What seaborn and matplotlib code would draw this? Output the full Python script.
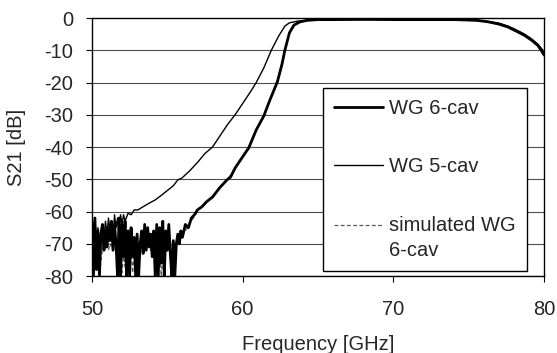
import numpy as np
import pandas as pd
import seaborn as sns
import matplotlib.pyplot as plt

# measured 6-cavity waveguide filter (thick line)
freq_6cav = [50.0, 50.1, 50.2, 50.3, 50.4, 50.5, 50.6, 50.7, 50.8, 50.9,
             51.0, 51.1, 51.2, 51.3, 51.4, 51.5, 51.6, 51.7, 51.8, 51.9,
             52.0, 52.1, 52.2, 52.3, 52.4, 52.5, 52.6, 52.7, 52.8, 52.9,
             53.0, 53.1, 53.2, 53.3, 53.4, 53.5, 53.6, 53.7, 53.8, 53.9,
             54.0, 54.1, 54.2, 54.3, 54.4, 54.5, 54.6, 54.7, 54.8, 54.9,
             55.0, 55.1, 55.2, 55.3, 55.4, 55.5, 55.6, 55.7, 55.8, 55.9,
             56.0, 56.2, 56.4, 56.6, 56.8, 57.0, 57.3, 57.6, 58.0, 58.5,
             59.0, 59.2, 59.5, 60.0, 60.4, 60.9, 61.4, 61.8, 62.3, 62.6,
             62.8, 63.1, 63.4, 63.8, 64.3, 65.0, 66.0, 68.0, 70.0, 72.0,
             74.0, 75.5, 76.3, 77.0, 77.6, 78.2, 78.7, 79.2, 79.6, 80.0]
s21_6cav = [-63, -80, -62, -78, -66, -80, -67, -64, -72, -66,
            -71, -65, -69, -63, -72, -64, -70, -80, -62, -80,
            -64, -74, -63, -80, -66, -80, -65, -74, -68, -80,
            -67, -80, -70, -66, -73, -64, -72, -65, -71, -67,
            -74, -66, -80, -64, -80, -65, -76, -63, -80, -66,
            -72, -64, -73, -80, -69, -80, -70, -67, -70, -66,
            -68, -64, -65, -62, -61, -59.5, -58.5, -57, -55.5, -52.5,
            -50, -49.3, -46.5, -43, -40.3, -34.7, -30.4, -25.5, -19.8, -14.5,
            -10, -4.6, -2.2, -1.2, -0.7, -0.5, -0.5, -0.4, -0.5, -0.5,
            -0.5, -0.7, -1.2, -1.9, -2.8, -4.2, -5.4, -7.0, -8.6, -11.5]

# measured 5-cavity waveguide filter (thin line)
freq_5cav = [50.0, 50.1, 50.2, 50.3, 50.4, 50.5, 50.6, 50.7, 50.8, 50.9,
             51.0, 51.1, 51.2, 51.3, 51.4, 51.5, 51.6, 51.7, 51.8, 51.9,
             52.0, 52.1, 52.2, 52.4, 52.6, 52.8, 53.05, 53.4, 53.8, 54.2,
             54.6, 55.0, 55.4, 55.7, 56.0, 56.5, 57.0, 57.5, 58.0, 58.5,
             59.0, 59.5, 60.0, 60.5, 60.9, 61.4, 61.9, 62.4, 62.8, 63.1,
             63.6, 64.5, 66.0, 68.0, 70.0, 72.0, 74.0, 75.5, 76.3, 77.0,
             77.6, 78.2, 78.7, 79.2, 79.6, 80.0]
s21_5cav = [-62, -68, -63, -69, -65, -70, -66, -64, -68, -63,
            -67, -62, -66, -64, -69, -61, -65, -62, -67, -61,
            -64, -61, -63, -60.5, -61, -59.5, -59.5, -58.5, -57.4, -56.4,
            -55, -53.5, -52, -50.2, -49.5, -47.3, -44.8, -42, -40, -36.5,
            -33, -30, -26.5, -23, -20, -15.5, -10, -5.5, -2.5, -1.5,
            -1.0, -0.6, -0.5, -0.5, -0.4, -0.5, -0.6, -0.8, -1.1, -1.6,
            -2.5, -3.8, -5.0, -6.6, -8.2, -10.5]

# simulated 6-cavity response (dashed)
freq_sim = [50.0, 50.1, 50.2, 50.3, 50.4, 50.5, 50.6, 50.7, 50.8, 50.9,
            51.0, 51.1, 51.2, 51.3, 51.4, 51.5, 51.6, 51.7, 51.8, 51.9,
            52.0, 52.1, 52.2, 52.3, 52.4, 52.5, 52.6, 52.7, 52.8, 52.9,
            53.0, 53.1, 53.2, 53.3, 53.4, 53.5, 53.6, 53.7, 53.8, 53.9,
            54.0, 54.1, 54.2, 54.3, 54.4, 54.5, 54.6, 54.7, 54.8, 54.9,
            55.0, 55.2, 55.5, 55.8, 56.2, 56.6, 57.0, 57.6, 58.0, 58.5,
            59.0, 59.5, 60.0, 60.4, 60.9, 61.4, 61.8, 62.3, 62.8, 63.1,
            63.5, 64.0, 65.0, 70.0, 75.0, 76.0, 77.0, 78.0, 79.0, 80.0]
s21_sim = [-74, -79, -72, -78, -73, -80, -75, -72, -71, -70,
           -71, -72, -70, -71, -72, -70, -71, -74, -78, -72,
           -79, -73, -77, -72, -78, -74, -72, -79, -73, -78,
           -72, -77, -71, -70, -71, -72, -70, -71, -70, -72,
           -71, -73, -79, -72, -78, -73, -80, -74, -78, -72,
           -71, -70, -70, -69, -66, -63, -60, -57, -55.5, -52.5,
           -50, -46.5, -43, -40.3, -34.7, -30.4, -25.5, -19.8, -10, -4.8,
           -2.0, -1.0, -0.6, -0.5, -0.6, -0.9, -1.6, -3.3, -6.0, -11.0]

y_ticks = [0, -10, -20, -30, -40, -50, -60, -70, -80]
x_ticks = [50, 60, 70, 80]

sns.set_style("ticks")
plt.rcParams['font.family'] = ['Liberation Sans', 'DejaVu Sans']
plt.rcParams['axes.unicode_minus'] = False
fs = 14.5

fig = plt.figure(figsize=(5.57, 3.53), dpi=100)
ax = fig.add_axes([0.165, 0.218, 0.812, 0.731])

for yv in y_ticks[1:]:
    ax.axhline(yv, color="0.3", lw=0.8, zorder=0)

sns.lineplot(x=freq_sim, y=s21_sim, ax=ax, color="0.35", lw=0.9,
             linestyle=(0, (3, 2)), sort=False, estimator=None,
             label="simulated WG\n6-cav", zorder=2)
sns.lineplot(x=freq_5cav, y=s21_5cav, ax=ax, color="black", lw=1.0,
             sort=False, estimator=None, label="WG 5-cav", zorder=3)
sns.lineplot(x=freq_6cav, y=s21_6cav, ax=ax, color="black", lw=2.0,
             sort=False, estimator=None, label="WG 6-cav", zorder=4)

ax.set_xlim(50, 80)
ax.set_ylim(-80, 0)
ax.set_xticks(x_ticks)
ax.set_yticks(y_ticks)
ax.tick_params(axis="both", labelsize=fs, length=4, width=0.8,
               direction="out", color="black")
ax.tick_params(axis="x", pad=13)
ax.tick_params(axis="y", pad=9.7)
for s in ax.spines.values():
    s.set_color("black")
    s.set_linewidth(1.0)
    s.set_visible(True)

ax.set_xlabel("Frequency [GHz]", fontsize=fs, labelpad=11.5)
ax.set_ylabel("S21 [dB]", fontsize=fs)
ax.yaxis.set_label_coords(-0.145, 0.5)

h, l = ax.get_legend_handles_labels()
order = [2, 1, 0]
leg = ax.legend([h[i] for i in order], [l[i] for i in order],
                loc="upper left", bbox_to_anchor=(0.511, 0.729, 0.451, 0.0),
                mode="expand", borderaxespad=0, fontsize=fs,
                labelspacing=1.95, handlelength=2.45, handletextpad=0.3,
                frameon=True, fancybox=False, edgecolor="black",
                framealpha=1.0, borderpad=0.55)
leg.get_frame().set_linewidth(1.0)
leg.get_texts()[2].set_linespacing(1.4)
# put the dashed handle level with the first text line
sim_line = leg.get_lines()[2]
sim_line.set_ydata(np.asarray(sim_line.get_ydata()) + 9.5)

fig.savefig("out.png", dpi=100)
